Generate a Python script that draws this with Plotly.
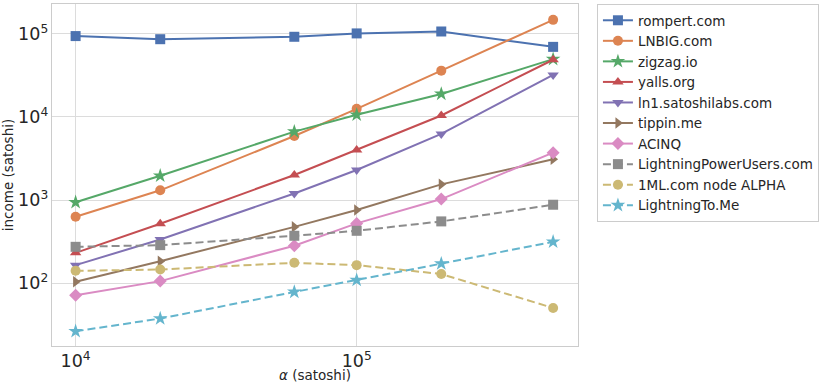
import plotly.graph_objects as go

# alpha values (satoshi)
alpha = [1e4, 2e4, 6e4, 1e5, 2e5, 5e5]

names = [
    "rompert.com", "LNBIG.com", "zigzag.io", "yalls.org", "ln1.satoshilabs.com",
    "tippin.me", "ACINQ", "LightningPowerUsers.com", "1ML.com node ALPHA", "LightningTo.Me",
]

rompert = [93800, 86000, 92000, 101000, 106500, 69600]
lnbig = [630, 1310, 5900, 12500, 36000, 147000]
zigzag = [940, 1960, 6650, 10600, 18900, 49500]
yalls = [232, 519, 2000, 4000, 10400, 48700]
ln1 = [165, 336, 1200, 2300, 6240, 32000]
tippin = [104, 184, 476, 759, 1545, 3090]
acinq = [71.7, 106, 282, 524, 1028, 3720]
lpu = [274, 287, 372, 427, 554, 879]
oneml = [141, 146, 176, 165, 129, 50.4]
lightningto = [26.4, 37.6, 78.5, 109, 172, 315]

series = [rompert, lnbig, zigzag, yalls, ln1, tippin, acinq, lpu, oneml, lightningto]

# seaborn "deep" palette
colors = ["#4C72B0", "#DD8452", "#55A868", "#C44E52", "#8172B3",
          "#937860", "#DA8BC3", "#8C8C8C", "#CCB974", "#64B5CD"]
symbols = ["square", "circle", "star", "triangle-up", "triangle-down",
           "triangle-right", "diamond", "square", "circle", "star"]
dashed = [False] * 7 + [True] * 3

fig = go.Figure()
for name, ys, c, sym, d in zip(names, series, colors, symbols, dashed):
    fig.add_trace(go.Scatter(
        x=alpha, y=ys, name=name, mode="lines+markers",
        line=dict(color=c, width=2, dash="8px,4px" if d else "solid"),
        marker=dict(symbol=sym, size=10 if sym != "star" else 11, color=c),
    ))

axis_common = dict(
    type="log", dtick=1, exponentformat="power", showexponent="all",
    showgrid=True, gridcolor="#dcdcdc", gridwidth=1,
    showline=True, linecolor="#cccccc", linewidth=1, mirror=True,
    ticks="", zeroline=False, automargin=False,
    tickfont=dict(size=14, color="#262626"),
)

fig.update_layout(
    width=830, height=388,
    margin=dict(l=52, r=252, t=4, b=42),
    paper_bgcolor="white", plot_bgcolor="white",
    font=dict(family="DejaVu Sans", size=14, color="#262626"),
    xaxis=dict(axis_common, range=[3.916, 5.7875]),
    yaxis=dict(axis_common, range=[1.245, 5.358],
               title=dict(text="income (satoshi)", standoff=8, font=dict(size=13.5))),
    legend=dict(
        x=1.036, y=1.0, xanchor="left", yanchor="top",
        bordercolor="#cccccc", borderwidth=1, bgcolor="white",
        font=dict(size=13.5), tracegroupgap=0,
    ),
    showlegend=True,
)

# x-axis label placed just under the tick labels
fig.add_annotation(
    text="<i>α</i> (satoshi)", xref="paper", yref="paper",
    x=0.5, y=-0.085, xanchor="center", yanchor="middle",
    showarrow=False, font=dict(size=13.5),
)

# page body has a default 8px margin; drop it so the figure sits at 0,0
fig.write_html("out.html", config={"displayModeBar": False},
               post_script="document.body.style.margin='0';")
